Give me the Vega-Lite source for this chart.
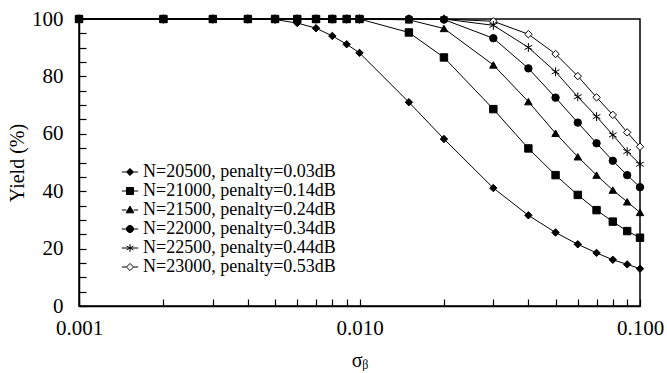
{
  "$schema": "https://vega.github.io/schema/vega-lite/v6.json",
  "autosize": "none",
  "width": 561,
  "height": 287,
  "padding": {"left": 79, "top": 19, "right": 27, "bottom": 67},
  "background": "white",
  "config": {
    "font": "Liberation Serif",
    "view": {"stroke": "black", "strokeWidth": 1.5},
    "axis": {"labelColor": "black", "titleColor": "black", "domainColor": "black", "tickColor": "black", "domainWidth": 1.5, "tickWidth": 1.2, "grid": false, "labelFontSize": 21, "titleFontSize": 20, "titleFontWeight": "normal", "labelFont": "Liberation Serif", "titleFont": "Liberation Serif"},
    "legend": {"labelFont": "Liberation Serif"}
  },
  "data": {"values": [
    {"s": "N=20500, penalty=0.03dB", "x": 0.001, "y": 100}, {"s": "N=20500, penalty=0.03dB", "x": 0.002, "y": 100}, {"s": "N=20500, penalty=0.03dB", "x": 0.003, "y": 100}, {"s": "N=20500, penalty=0.03dB", "x": 0.004, "y": 100}, {"s": "N=20500, penalty=0.03dB", "x": 0.005, "y": 99.8}, {"s": "N=20500, penalty=0.03dB", "x": 0.006, "y": 98.6}, {"s": "N=20500, penalty=0.03dB", "x": 0.007, "y": 96.8}, {"s": "N=20500, penalty=0.03dB", "x": 0.008, "y": 94.1}, {"s": "N=20500, penalty=0.03dB", "x": 0.009, "y": 91.2}, {"s": "N=20500, penalty=0.03dB", "x": 0.01, "y": 88.2}, {"s": "N=20500, penalty=0.03dB", "x": 0.015, "y": 71}, {"s": "N=20500, penalty=0.03dB", "x": 0.02, "y": 58.2}, {"s": "N=20500, penalty=0.03dB", "x": 0.03, "y": 41.1}, {"s": "N=20500, penalty=0.03dB", "x": 0.04, "y": 31.6}, {"s": "N=20500, penalty=0.03dB", "x": 0.05, "y": 25.6}, {"s": "N=20500, penalty=0.03dB", "x": 0.06, "y": 21.5}, {"s": "N=20500, penalty=0.03dB", "x": 0.07, "y": 18.5}, {"s": "N=20500, penalty=0.03dB", "x": 0.08, "y": 16.1}, {"s": "N=20500, penalty=0.03dB", "x": 0.09, "y": 14.5}, {"s": "N=20500, penalty=0.03dB", "x": 0.1, "y": 13},
    {"s": "N=21500, penalty=0.24dB", "x": 0.001, "y": 100}, {"s": "N=21500, penalty=0.24dB", "x": 0.002, "y": 100}, {"s": "N=21500, penalty=0.24dB", "x": 0.003, "y": 100}, {"s": "N=21500, penalty=0.24dB", "x": 0.004, "y": 100}, {"s": "N=21500, penalty=0.24dB", "x": 0.005, "y": 100}, {"s": "N=21500, penalty=0.24dB", "x": 0.006, "y": 100}, {"s": "N=21500, penalty=0.24dB", "x": 0.007, "y": 100}, {"s": "N=21500, penalty=0.24dB", "x": 0.008, "y": 100}, {"s": "N=21500, penalty=0.24dB", "x": 0.009, "y": 100}, {"s": "N=21500, penalty=0.24dB", "x": 0.01, "y": 100}, {"s": "N=21500, penalty=0.24dB", "x": 0.015, "y": 99.7}, {"s": "N=21500, penalty=0.24dB", "x": 0.02, "y": 96.7}, {"s": "N=21500, penalty=0.24dB", "x": 0.03, "y": 84}, {"s": "N=21500, penalty=0.24dB", "x": 0.04, "y": 71.2}, {"s": "N=21500, penalty=0.24dB", "x": 0.05, "y": 60.2}, {"s": "N=21500, penalty=0.24dB", "x": 0.06, "y": 52}, {"s": "N=21500, penalty=0.24dB", "x": 0.07, "y": 45.6}, {"s": "N=21500, penalty=0.24dB", "x": 0.08, "y": 40.4}, {"s": "N=21500, penalty=0.24dB", "x": 0.09, "y": 36.3}, {"s": "N=21500, penalty=0.24dB", "x": 0.1, "y": 32.6},
    {"s": "N=23000, penalty=0.53dB", "x": 0.001, "y": 100}, {"s": "N=23000, penalty=0.53dB", "x": 0.002, "y": 100}, {"s": "N=23000, penalty=0.53dB", "x": 0.003, "y": 100}, {"s": "N=23000, penalty=0.53dB", "x": 0.004, "y": 100}, {"s": "N=23000, penalty=0.53dB", "x": 0.005, "y": 100}, {"s": "N=23000, penalty=0.53dB", "x": 0.006, "y": 100}, {"s": "N=23000, penalty=0.53dB", "x": 0.007, "y": 100}, {"s": "N=23000, penalty=0.53dB", "x": 0.008, "y": 100}, {"s": "N=23000, penalty=0.53dB", "x": 0.009, "y": 100}, {"s": "N=23000, penalty=0.53dB", "x": 0.01, "y": 100}, {"s": "N=23000, penalty=0.53dB", "x": 0.015, "y": 100}, {"s": "N=23000, penalty=0.53dB", "x": 0.02, "y": 100}, {"s": "N=23000, penalty=0.53dB", "x": 0.03, "y": 99.2}, {"s": "N=23000, penalty=0.53dB", "x": 0.04, "y": 94.7}, {"s": "N=23000, penalty=0.53dB", "x": 0.05, "y": 87.8}, {"s": "N=23000, penalty=0.53dB", "x": 0.06, "y": 80.1}, {"s": "N=23000, penalty=0.53dB", "x": 0.07, "y": 72.7}, {"s": "N=23000, penalty=0.53dB", "x": 0.08, "y": 66.6}, {"s": "N=23000, penalty=0.53dB", "x": 0.09, "y": 60.5}, {"s": "N=23000, penalty=0.53dB", "x": 0.1, "y": 55.5},
    {"s": "N=22500, penalty=0.44dB", "x": 0.001, "y": 100}, {"s": "N=22500, penalty=0.44dB", "x": 0.002, "y": 100}, {"s": "N=22500, penalty=0.44dB", "x": 0.003, "y": 100}, {"s": "N=22500, penalty=0.44dB", "x": 0.004, "y": 100}, {"s": "N=22500, penalty=0.44dB", "x": 0.005, "y": 100}, {"s": "N=22500, penalty=0.44dB", "x": 0.006, "y": 100}, {"s": "N=22500, penalty=0.44dB", "x": 0.007, "y": 100}, {"s": "N=22500, penalty=0.44dB", "x": 0.008, "y": 100}, {"s": "N=22500, penalty=0.44dB", "x": 0.009, "y": 100}, {"s": "N=22500, penalty=0.44dB", "x": 0.01, "y": 100}, {"s": "N=22500, penalty=0.44dB", "x": 0.015, "y": 100}, {"s": "N=22500, penalty=0.44dB", "x": 0.02, "y": 100}, {"s": "N=22500, penalty=0.44dB", "x": 0.03, "y": 97.8}, {"s": "N=22500, penalty=0.44dB", "x": 0.04, "y": 90.1}, {"s": "N=22500, penalty=0.44dB", "x": 0.05, "y": 81.6}, {"s": "N=22500, penalty=0.44dB", "x": 0.06, "y": 72.9}, {"s": "N=22500, penalty=0.44dB", "x": 0.07, "y": 66}, {"s": "N=22500, penalty=0.44dB", "x": 0.08, "y": 59.6}, {"s": "N=22500, penalty=0.44dB", "x": 0.09, "y": 53.8}, {"s": "N=22500, penalty=0.44dB", "x": 0.1, "y": 49.4},
    {"s": "N=22000, penalty=0.34dB", "x": 0.001, "y": 100}, {"s": "N=22000, penalty=0.34dB", "x": 0.002, "y": 100}, {"s": "N=22000, penalty=0.34dB", "x": 0.003, "y": 100}, {"s": "N=22000, penalty=0.34dB", "x": 0.004, "y": 100}, {"s": "N=22000, penalty=0.34dB", "x": 0.005, "y": 100}, {"s": "N=22000, penalty=0.34dB", "x": 0.006, "y": 100}, {"s": "N=22000, penalty=0.34dB", "x": 0.007, "y": 100}, {"s": "N=22000, penalty=0.34dB", "x": 0.008, "y": 100}, {"s": "N=22000, penalty=0.34dB", "x": 0.009, "y": 100}, {"s": "N=22000, penalty=0.34dB", "x": 0.01, "y": 100}, {"s": "N=22000, penalty=0.34dB", "x": 0.015, "y": 100}, {"s": "N=22000, penalty=0.34dB", "x": 0.02, "y": 99.8}, {"s": "N=22000, penalty=0.34dB", "x": 0.03, "y": 93.3}, {"s": "N=22000, penalty=0.34dB", "x": 0.04, "y": 82.8}, {"s": "N=22000, penalty=0.34dB", "x": 0.05, "y": 72.6}, {"s": "N=22000, penalty=0.34dB", "x": 0.06, "y": 63.9}, {"s": "N=22000, penalty=0.34dB", "x": 0.07, "y": 56.7}, {"s": "N=22000, penalty=0.34dB", "x": 0.08, "y": 50.6}, {"s": "N=22000, penalty=0.34dB", "x": 0.09, "y": 45.6}, {"s": "N=22000, penalty=0.34dB", "x": 0.1, "y": 41.4},
    {"s": "N=21000, penalty=0.14dB", "x": 0.001, "y": 100}, {"s": "N=21000, penalty=0.14dB", "x": 0.002, "y": 100}, {"s": "N=21000, penalty=0.14dB", "x": 0.003, "y": 100}, {"s": "N=21000, penalty=0.14dB", "x": 0.004, "y": 100}, {"s": "N=21000, penalty=0.14dB", "x": 0.005, "y": 100}, {"s": "N=21000, penalty=0.14dB", "x": 0.006, "y": 100}, {"s": "N=21000, penalty=0.14dB", "x": 0.007, "y": 100}, {"s": "N=21000, penalty=0.14dB", "x": 0.008, "y": 100}, {"s": "N=21000, penalty=0.14dB", "x": 0.009, "y": 100}, {"s": "N=21000, penalty=0.14dB", "x": 0.01, "y": 100}, {"s": "N=21000, penalty=0.14dB", "x": 0.015, "y": 95.3}, {"s": "N=21000, penalty=0.14dB", "x": 0.02, "y": 86.6}, {"s": "N=21000, penalty=0.14dB", "x": 0.03, "y": 68.6}, {"s": "N=21000, penalty=0.14dB", "x": 0.04, "y": 54.9}, {"s": "N=21000, penalty=0.14dB", "x": 0.05, "y": 45.6}, {"s": "N=21000, penalty=0.14dB", "x": 0.06, "y": 38.7}, {"s": "N=21000, penalty=0.14dB", "x": 0.07, "y": 33.4}, {"s": "N=21000, penalty=0.14dB", "x": 0.08, "y": 29.4}, {"s": "N=21000, penalty=0.14dB", "x": 0.09, "y": 26.1}, {"s": "N=21000, penalty=0.14dB", "x": 0.1, "y": 23.8}
  ]},
  "encoding": {
    "x": {"field": "x", "type": "quantitative", "title": "σᵦ",
      "scale": {"type": "log", "domain": [0.001, 0.1], "nice": false},
      "axis": {"values": [0.001,0.002,0.003,0.004,0.005,0.006,0.007,0.008,0.009,0.01,0.02,0.03,0.04,0.05,0.06,0.07,0.08,0.09,0.1],
        "labelExpr": "indexof([0.001,0.01,0.1], datum.value) >= 0 ? format(datum.value, '.3f') : ''",
        "tickSize": -7, "labelPadding": 18, "titlePadding": 12, "labelFlush": false, "labelOverlap": false}},
    "y": {"field": "y", "type": "quantitative", "title": "Yield (%)",
      "scale": {"domain": [0, 100], "nice": false},
      "axis": {"values": [0,5,10,15,20,25,30,35,40,45,50,55,60,65,70,75,80,85,90,95,100],
        "labelExpr": "datum.value % 20 === 0 ? datum.label : ''",
        "tickSize": -7, "labelPadding": 23, "titlePadding": 4, "labelOverlap": false}}
  },
  "layer": [
    {"mark": {"type": "line", "color": "black", "strokeWidth": 1, "clip": false},
     "encoding": {"detail": {"field": "s"}}},
    {"mark": {"type": "point", "filled": false, "stroke": "black", "strokeWidth": 1, "size": 55, "opacity": 1, "clip": false},
     "encoding": {
       "shape": {"field": "s", "type": "nominal", "legend": null,
         "scale": {"domain": ["N=23000, penalty=0.53dB","N=22500, penalty=0.44dB","N=22000, penalty=0.34dB","N=21500, penalty=0.24dB","N=21000, penalty=0.14dB","N=20500, penalty=0.03dB"],
           "range": ["diamond", "M0,-1.2L0,1.2M-1.04,-0.6L1.04,0.6M-1.04,0.6L1.04,-0.6", "circle", "triangle-up", "square", "diamond"]}},
       "fill": {"field": "s", "type": "nominal",
         "scale": {"domain": ["N=20500, penalty=0.03dB","N=21000, penalty=0.14dB","N=21500, penalty=0.24dB","N=22000, penalty=0.34dB","N=22500, penalty=0.44dB","N=23000, penalty=0.53dB"],
           "range": ["black", "black", "black", "black", "transparent", "white"]},
         "legend": {"title": null, "orient": "none", "legendX": 42, "legendY": 144, "labelFontSize": 18, "labelLimit": 400, "symbolSize": 50, "rowPadding": 1, "labelOffset": 4, "padding": 0, "labelColor": "black", "symbolStrokeWidth": 1, "symbolStrokeColor": "black",
           "symbolType": {"expr": "indexof(datum.value,'20500')>=0 ? 'M-2.3,0L-1,0M1,0L2.3,0M-1,0L0,-1L1,0L0,1Z' : indexof(datum.value,'21000')>=0 ? 'M-2.3,0L-1,0M1,0L2.3,0M-1,-1L1,-1L1,1L-1,1Z' : indexof(datum.value,'21500')>=0 ? 'M-2.3,0L-1,0M1,0L2.3,0M0,-1.1L1.1,0.8L-1.1,0.8Z' : indexof(datum.value,'22000')>=0 ? 'M-2.3,0L-1,0M1,0L2.3,0M1,0A1,1,0,1,1,-1,0A1,1,0,1,1,1,0Z' : indexof(datum.value,'22500')>=0 ? 'M-2.3,0L2.3,0M0,-1.1L0,1.1M-0.95,-0.55L0.95,0.55M-0.95,0.55L0.95,-0.55' : 'M-2.3,0L-1,0M1,0L2.3,0M-1,0L0,-1L1,0L0,1Z'"},
           "encode": {"symbols": {
             "stroke": {"value": "black"},
             "strokeWidth": {"value": 1}}}}}
     }}
  ]
}
